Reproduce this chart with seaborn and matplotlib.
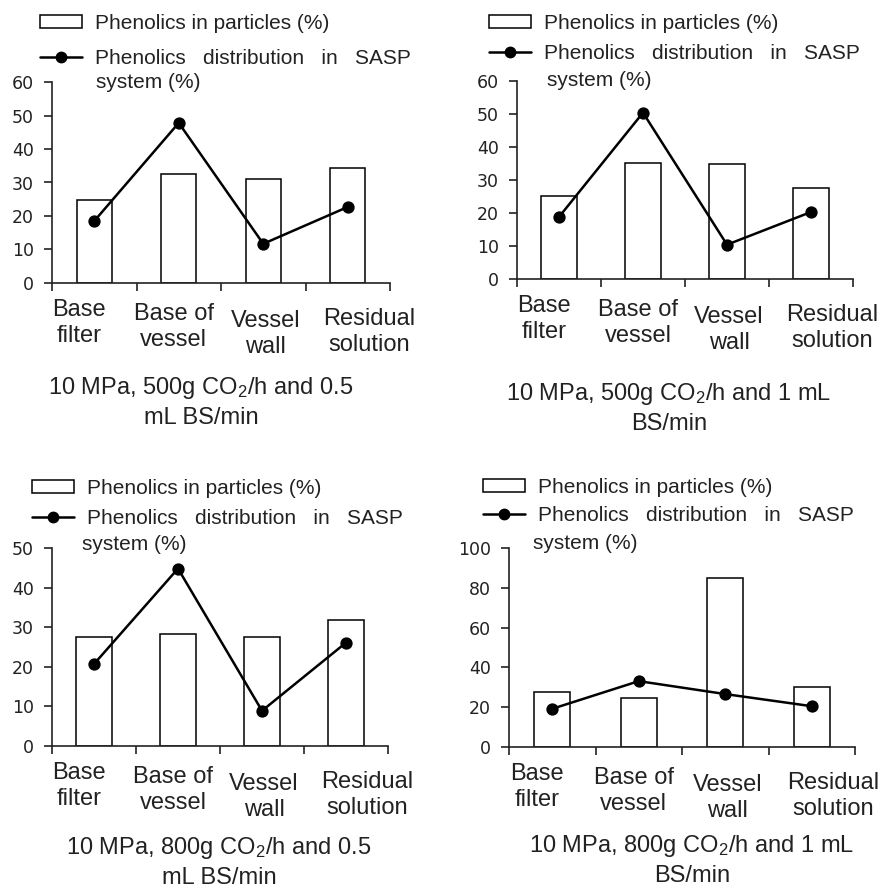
import numpy as np
import pandas as pd
import matplotlib
matplotlib.use("Agg")
import matplotlib.pyplot as plt
import matplotlib.transforms as mtransforms
from matplotlib.patches import Patch
from matplotlib.lines import Line2D
import seaborn as sns

# ---- data ----
categories = ["Base\nfilter", "Base of\nvessel", "Vessel\nwall", "Residual\nsolution"]

particles_a = [24.9, 32.6, 31.1, 34.3]
distribution_a = [18.5, 47.8, 11.7, 22.7]

particles_b = [25.0, 35.1, 34.7, 27.7]
distribution_b = [18.8, 50.4, 10.4, 20.3]

particles_c = [27.4, 28.2, 27.4, 31.7]
distribution_c = [20.7, 44.8, 8.9, 26.1]

particles_d = [27.4, 24.4, 84.9, 30.3]
distribution_d = [19.2, 33.1, 26.6, 20.5]

y_max = [60, 60, 50, 100]
y_step = [10, 10, 10, 20]

conditions = [
    "10 MPa, 500g CO$_2$/h and 0.5\nmL BS/min",
    "10 MPa, 500g CO$_2$/h and 1 mL\nBS/min",
    "10 MPa, 800g CO$_2$/h and 0.5\nmL BS/min",
    "10 MPa, 800g CO$_2$/h and 1 mL\nBS/min",
]

legend_labels = ["Phenolics in particles (%)", "Phenolics   distribution   in   SASP"]
legend_extra = "system (%)"

# ---- layout (pixels of the 885x888 canvas) ----
W, H = 885, 888
axes_px = [(52, 82, 390, 283), (517, 81, 853, 279), (52, 548, 388, 746), (509, 548, 855, 747)]
legend_px = [(40, 14), (489, 14), (32, 479), (483, 478)]
legend_gap = [0.78, 0.54, 0.54, 0.45]
extra_px = [(96, 83), (547, 80), (82, 545), (533, 543)]
title_px = [(201, 402), (669, 408), (219, 862), (692, 860)]
label_dx = [-15, -5, 2, 21]
label_dy = [16, 20, 27, 25]

sns.set_style("ticks")
plt.rcParams["font.family"] = ["Liberation Sans", "DejaVu Sans"]
plt.rcParams["mathtext.fontset"] = "custom"
plt.rcParams["mathtext.rm"] = "Liberation Sans"
plt.rcParams["mathtext.it"] = "Liberation Sans:italic"
plt.rcParams["text.color"] = "#222222"
plt.rcParams["axes.edgecolor"] = "#222222"
plt.rcParams["xtick.color"] = "#222222"
plt.rcParams["ytick.color"] = "#222222"

fig = plt.figure(figsize=(W / 100, H / 100), dpi=100)

panels = [
    (particles_a, distribution_a),
    (particles_b, distribution_b),
    (particles_c, distribution_c),
    (particles_d, distribution_d),
]

for i, (part, dist) in enumerate(panels):
    l, t, r, b = axes_px[i]
    ax = fig.add_axes([l / W, 1 - b / H, (r - l) / W, (b - t) / H])
    df = pd.DataFrame({"site": categories, "particles": part, "distribution": dist})

    sns.barplot(data=df, x="site", y="particles", order=categories, color="white",
                edgecolor="black", linewidth=1.1, width=0.42, saturation=1, ax=ax)
    sns.pointplot(data=df, x="site", y="distribution", order=categories, color="black",
                  markers="o", markersize=7.5, linewidth=1.8, errorbar=None, ax=ax)

    ax.set_xlim(-0.5, 3.5)
    ax.set_ylim(0, y_max[i])
    ax.set_yticks(np.arange(0, y_max[i] + 1, y_step[i]))
    ax.set_xticks(range(len(categories)))
    ax.set_xticklabels(categories, fontsize=17, linespacing=1.25)
    ax.set_xticks(np.arange(-0.5, len(categories), 1), minor=True)
    ax.tick_params(axis="x", which="major", length=0, pad=0)
    ax.tick_params(axis="x", which="minor", length=6, width=1.2, direction="out")
    ax.tick_params(axis="y", length=6, width=1.2, pad=7, labelsize=12.5)
    for lbl in ax.get_yticklabels():
        lbl.set_fontfamily("DejaVu Sans")
    for lbl, dx, dy in zip(ax.get_xticklabels(), label_dx, label_dy):
        lbl.set_transform(lbl.get_transform() +
                          mtransforms.ScaledTranslation(dx / 100, -dy / 100, fig.dpi_scale_trans))
    ax.set_xlabel("")
    ax.set_ylabel("")
    sns.despine(ax=ax)
    for s in ["left", "bottom"]:
        ax.spines[s].set_linewidth(1.2)

    handles = [
        Patch(facecolor="white", edgecolor="black", linewidth=1.1),
        Line2D([], [], color="black", linewidth=1.8, marker="o", markersize=7.5),
    ]
    lx, ly = legend_px[i]
    ax.legend(handles, legend_labels, loc="upper left",
              bbox_to_anchor=(lx / W, 1 - ly / H), bbox_transform=fig.transFigure,
              frameon=False, fontsize=15, borderpad=0, borderaxespad=0,
              handlelength=2.0, handleheight=0.6, handletextpad=0.65,
              labelspacing=legend_gap[i])
    ex, ey = extra_px[i]
    fig.text(ex / W, 1 - ey / H, legend_extra, fontsize=15, ha="left", va="center")

    tx, ty = title_px[i]
    fig.text(tx / W, 1 - ty / H, conditions[i], fontsize=17, ha="center", va="center",
             linespacing=1.3)

fig.savefig("out.png", dpi=100)
